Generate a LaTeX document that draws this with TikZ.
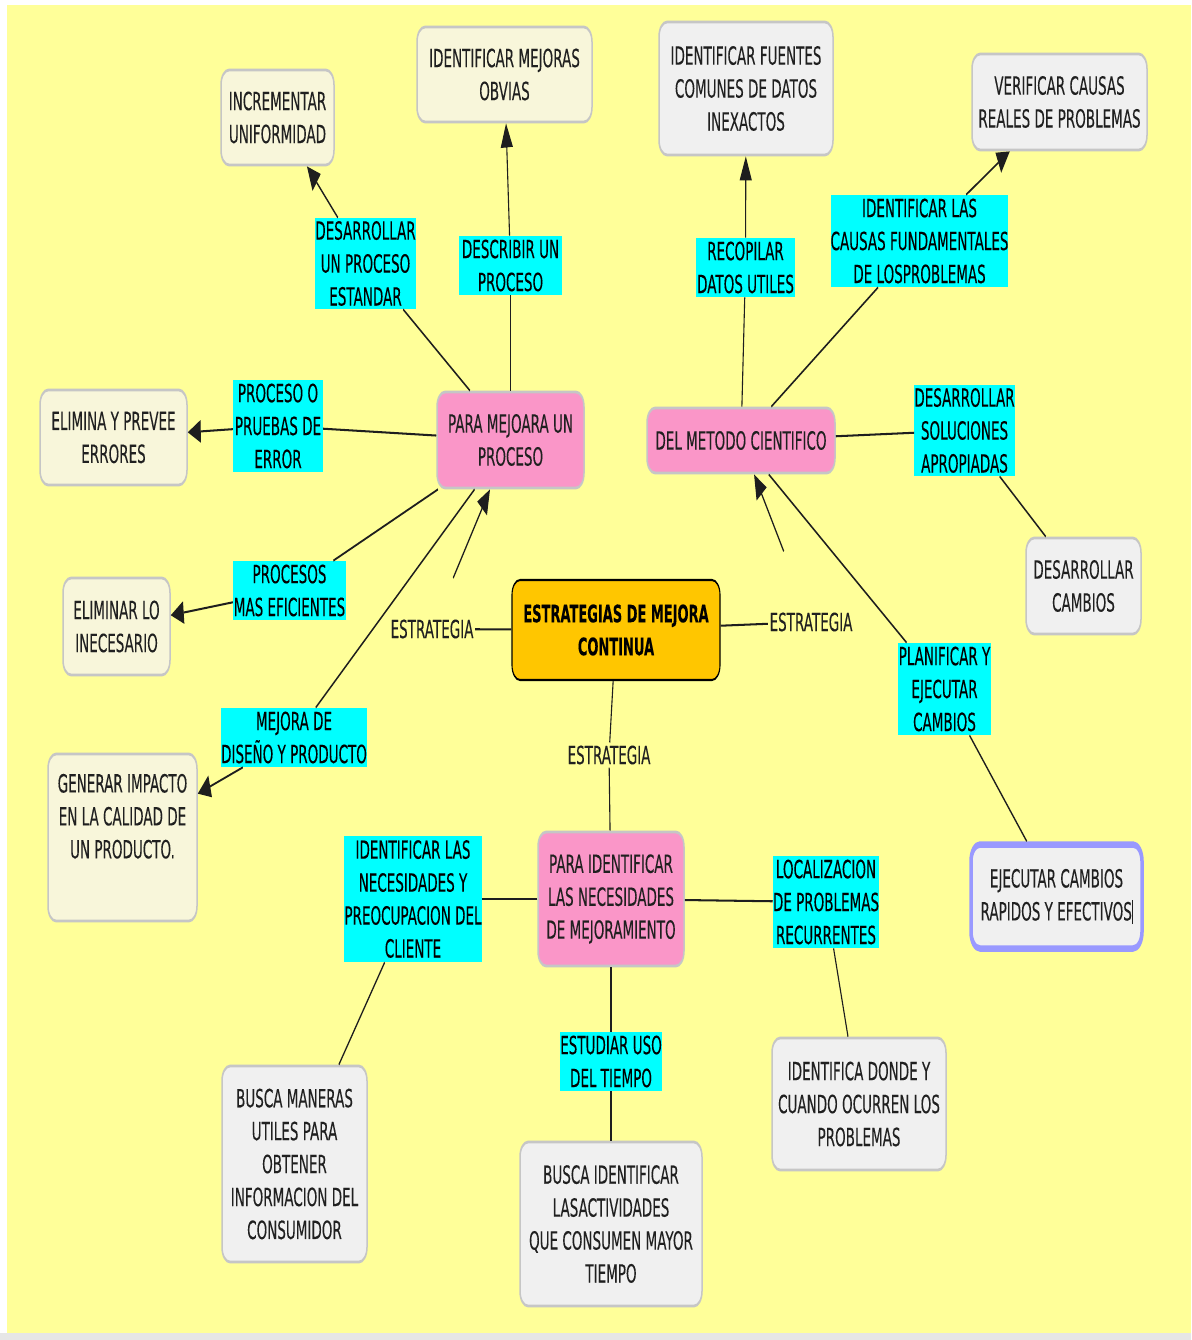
\documentclass[tikz,border=0pt]{standalone}
\usepackage{fontspec}
\setmainfont{DejaVu Sans}
\newfontfamily\mapfont{DejaVu Sans}[FakeBold=0.3]
\usetikzlibrary{arrows.meta}

\definecolor{paper}{HTML}{FFFF99}
\definecolor{strip}{HTML}{E6E6E6}
\definecolor{creamf}{HTML}{F8F6DA}
\definecolor{greyf}{HTML}{F0F0F0}
\definecolor{pinkf}{HTML}{FA96C8}
\definecolor{coref}{HTML}{FFC600}
\definecolor{phrasef}{HTML}{00FFFF}
\definecolor{rimc}{HTML}{C6C6C6}
\definecolor{focusc}{HTML}{9999FF}
\definecolor{inkc}{HTML}{202020}
\definecolor{linec}{HTML}{1E1E1E}

\tikzset{
  every node/.style={font=\mapfont\fontsize{13.5}{17.8}\selectfont, text=inkc, align=center, inner sep=0pt},
  sz/.style 2 args={minimum width=#1pt, minimum height=#2pt/1.85},
  concept/.style={draw=rimc, line width=1.5pt, rounded corners=8pt},
  cream/.style={concept, fill=creamf},
  greyc/.style={concept, fill=greyf},
  pinkc/.style={concept, fill=pinkf},
  core/.style={draw=black, line width=1.1pt, rounded corners=8pt, fill=coref,
    font=\mapfont\fontsize{13}{17.8}\selectfont\bfseries, text=black},
  focus/.style={draw=focusc, line width=3.5pt, rounded corners=9pt, fill=greyf},
  phrase/.style={fill=phrasef, text=black},
  plain/.style={inner sep=1.5pt},
  link/.style={draw=linec, line width=1.1pt},
  arr/.style={link, -{Triangle[length=13pt,width=12pt]}},
}

\begin{document}
\begin{tikzpicture}[x=1pt,y=-1pt]
\useasboundingbox (0,0) rectangle (1191,1340);
\fill[white] (0,0) rectangle (1191,1340);
\fill[paper] (7,5) rectangle (1191,1333);
\fill[strip] (0,1333) rectangle (1191,1340);

\begin{scope}[transform canvas={yscale=1.85}, y=-0.540541pt]
  % concepts
  \node[cream, sz={113}{95}] (incr) at (277.5,117.5) {INCREMENTAR\\UNIFORMIDAD};
  \node[cream, sz={175}{95}] (obvias) at (504.5,74.5) {IDENTIFICAR MEJORAS\\OBVIAS};
  \node[greyc, sz={174}{133}] (fuentes) at (746,88.5) {IDENTIFICAR FUENTES\\COMUNES DE DATOS\\INEXACTOS};
  \node[greyc, sz={175}{96}] (verif) at (1059.5,102) {VERIFICAR CAUSAS\\REALES DE PROBLEMAS};
  \node[cream, sz={147}{95}] (elimina) at (113.5,437.5) {ELIMINA Y PREVEE\\ERRORES};
  \node[pinkc, sz={147}{96}] (mejora) at (510.5,440) {PARA MEJOARA UN\\PROCESO};
  \node[pinkc, sz={188}{65}] (metodo) at (741,440.5) {DEL METODO CIENTIFICO};
  \node[greyc, sz={115}{96}] (dcambios) at (1083.5,586) {DESARROLLAR\\CAMBIOS};
  \node[cream, sz={107}{97}] (inec) at (116.5,626.5) {ELIMINAR LO\\INECESARIO};
  \node[core, sz={208}{100}] (core) at (616,630) {ESTRATEGIAS DE MEJORA\\CONTINUA};
  \node[cream, sz={149}{167}] (impacto) at (122.5,837.5) {GENERAR IMPACTO\\EN LA CALIDAD DE\\UN PRODUCTO.\\\strut};
  \node[pinkc, sz={146}{134}] (necesid) at (611,899) {PARA IDENTIFICAR\\LAS NECESIDADES\\DE MEJORAMIENTO};
  \node[focus, sz={171}{104}] (ejecutar) at (1056.5,896.5) {EJECUTAR CAMBIOS\\RAPIDOS Y EFECTIVOS\rule[-2pt]{0.6pt}{13pt}};
  \node[greyc, sz={145}{196}] (maneras) at (294.5,1164) {BUSCA MANERAS\\UTILES PARA\\OBTENER\\INFORMACION DEL\\CONSUMIDOR};
  \node[greyc, sz={182}{164}] (activ) at (611,1224) {BUSCA IDENTIFICAR\\LASACTIVIDADES\\QUE CONSUMEN MAYOR\\TIEMPO};
  \node[greyc, sz={174}{132}] (donde) at (859,1104) {IDENTIFICA DONDE Y\\CUANDO OCURREN LOS\\PROBLEMAS};

  % linking phrases
  \node[phrase, sz={97}{91}] (lDes) at (365.5,263.5) {DESARROLLAR\\UN PROCESO\\ESTANDAR};
  \node[phrase, sz={103}{59}] (lDesc) at (510.5,265.5) {DESCRIBIR UN\\PROCESO};
  \node[phrase, sz={99}{59}] (lRec) at (745.5,267.5) {RECOPILAR\\DATOS UTILES};
  \node[phrase, sz={175}{92}] (lCau) at (919.5,241) {IDENTIFICAR LAS\\CAUSAS FUNDAMENTALES\\DE LOSPROBLEMAS};
  \node[phrase, sz={90}{92}] (lPru) at (278,426) {PROCESO O\\PRUEBAS DE\\ERROR};
  \node[phrase, sz={97}{91}] (lSol) at (964.5,430.5) {DESARROLLAR\\SOLUCIONES\\APROPIADAS};
  \node[phrase, sz={113}{59}] (lEfi) at (289.5,590.5) {PROCESOS\\MAS EFICIENTES};
  \node[phrase, sz={144}{59}] (lDis) at (294,737.5) {MEJORA DE\\DISEÑO Y PRODUCTO};
  \node[phrase, sz={93}{92}] (lPla) at (944.5,689) {PLANIFICAR Y\\EJECUTAR\\CAMBIOS};
  \node[phrase, sz={136}{126}] (lCli) at (413,899) {IDENTIFICAR LAS\\NECESIDADES Y\\PREOCUPACION DEL\\CLIENTE};
  \node[phrase, sz={104}{92}] (lLoc) at (826,902) {LOCALIZACION\\DE PROBLEMAS\\RECURRENTES};
  \node[phrase, sz={102}{59}] (lEst) at (611,1061.5) {ESTUDIAR USO\\DEL TIEMPO};

  \node[plain] (estL) at (432,629) {ESTRATEGIA};
  \node[plain] (estR) at (811,622) {ESTRATEGIA};
  \node[plain] (estB) at (609,755) {ESTRATEGIA};

  % links from the central concept
  \draw[link] (core) -- (estL);
  \draw[arr, shorten <=34.8pt] (estL.center) -- (mejora);
  \draw[link] (core) -- (estR);
  \draw[arr, shorten <=47pt] (estR.center) -- (metodo);
  \draw[link] (core) -- (estB);
  \draw[link] (estB) -- (necesid);

  % process branch
  \draw[link] (mejora) -- (lDes);  \draw[arr] (lDes) -- (incr);
  \draw[link] (mejora) -- (lDesc); \draw[arr] (lDesc) -- (obvias);
  \draw[link] (mejora) -- (lPru);  \draw[arr] (lPru) -- (elimina);
  \draw[link] (mejora) -- (lEfi);  \draw[arr] (lEfi) -- (inec);
  \draw[link] (mejora) -- (lDis);  \draw[arr] (lDis) -- (impacto);

  % scientific method branch
  \draw[link] (metodo) -- (lRec); \draw[arr] (lRec) -- (fuentes);
  \draw[link] (metodo) -- (lCau); \draw[arr] (lCau) -- (verif);
  \draw[link] (metodo) -- (lSol); \draw[link] (lSol) -- (dcambios);
  \draw[link] (metodo) -- (lPla); \draw[link] (lPla) -- (ejecutar);

  % needs branch
  \draw[link] (necesid) -- (lCli); \draw[link] (lCli) -- (maneras);
  \draw[link] (necesid) -- (lLoc); \draw[link] (lLoc) -- (donde);
  \draw[link] (necesid) -- (lEst); \draw[link] (lEst) -- (activ);
\end{scope}
\end{tikzpicture}
\end{document}
